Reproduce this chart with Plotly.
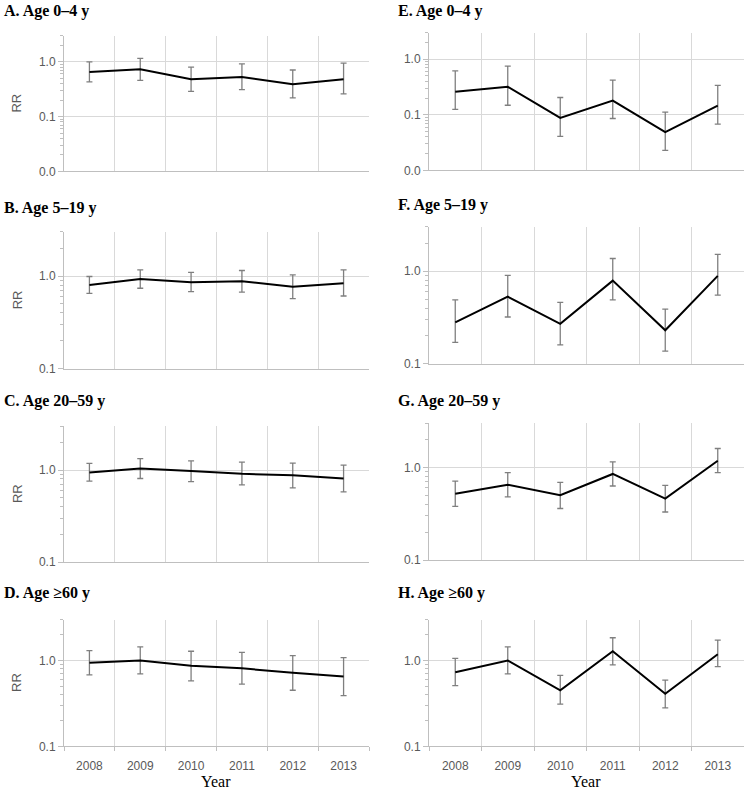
import plotly.graph_objects as go

years = ["2008", "2009", "2010", "2011", "2012", "2013"]

# Panel titles
titles = ["A. Age 0–4 y", "B. Age 5–19 y", "C. Age 20–59 y", "D. Age ≥60 y",
          "E. Age 0–4 y", "F. Age 5–19 y", "G. Age 20–59 y", "H. Age ≥60 y"]

# Rate ratios (RR) with 95% CI bounds
rr_A = [0.65, 0.73, 0.48, 0.53, 0.39, 0.48]
hi_A = [1.00, 1.16, 0.80, 0.92, 0.71, 0.95]
lo_A = [0.43, 0.46, 0.29, 0.31, 0.22, 0.26]

rr_B = [0.80, 0.93, 0.86, 0.88, 0.77, 0.84]
hi_B = [0.99, 1.17, 1.10, 1.15, 1.03, 1.17]
lo_B = [0.65, 0.74, 0.68, 0.67, 0.57, 0.61]

rr_C = [0.94, 1.04, 0.98, 0.91, 0.88, 0.81]
hi_C = [1.18, 1.33, 1.26, 1.22, 1.19, 1.13]
lo_C = [0.76, 0.81, 0.75, 0.69, 0.64, 0.58]

rr_D = [0.94, 1.00, 0.87, 0.81, 0.72, 0.65]
hi_D = [1.30, 1.44, 1.28, 1.24, 1.14, 1.08]
lo_D = [0.68, 0.70, 0.58, 0.53, 0.45, 0.39]

rr_E = [0.26, 0.32, 0.088, 0.18, 0.049, 0.147]
hi_E = [0.62, 0.75, 0.205, 0.42, 0.112, 0.34]
lo_E = [0.125, 0.149, 0.041, 0.086, 0.023, 0.068]

rr_F = [0.28, 0.53, 0.27, 0.79, 0.23, 0.89]
hi_F = [0.49, 0.90, 0.46, 1.37, 0.39, 1.52]
lo_F = [0.17, 0.32, 0.16, 0.49, 0.137, 0.55]

rr_G = [0.52, 0.65, 0.50, 0.85, 0.46, 1.18]
hi_G = [0.71, 0.88, 0.69, 1.15, 0.64, 1.60]
lo_G = [0.38, 0.48, 0.36, 0.63, 0.33, 0.88]

rr_H = [0.73, 1.00, 0.45, 1.28, 0.41, 1.18]
hi_H = [1.06, 1.44, 0.67, 1.84, 0.59, 1.73]
lo_H = [0.51, 0.70, 0.31, 0.89, 0.28, 0.85]

series = [(rr_A, hi_A, lo_A), (rr_B, hi_B, lo_B), (rr_C, hi_C, lo_C), (rr_D, hi_D, lo_D),
          (rr_E, hi_E, lo_E), (rr_F, hi_F, lo_F), (rr_G, hi_G, lo_G), (rr_H, hi_H, lo_H)]

# y-axis ranges (log10): top panels go down to 0.01
y_min = [-2, -1, -1, -1, -2, -1, -1, -1]
y_max = 0.477

W, H = 747, 796
# plot-area pixel boxes (left, right, top, bottom)
boxes = [
    (64, 369, 36, 173), (64, 369, 234, 372), (64, 369, 430, 567), (64, 369, 625, 753),
    (429, 744, 33, 172), (429, 744, 229, 367), (429, 744, 427, 565), (429, 744, 625, 753),
]
title_pos = [(2, 11), (2, 210), (2, 405), (2, 598),
             (396, 11), (396, 207), (396, 405), (396, 598)]

fig = go.Figure()
layout = dict(
    width=W, height=H, margin=dict(l=0, r=0, t=0, b=0),
    paper_bgcolor="white", plot_bgcolor="white", showlegend=False,
    annotations=[],
)

grid = "#d9d9d9"
axl = "#bfbfbf"
tickfont = dict(family="Liberation Sans, Arial", size=12, color="#595959")

for i, ((rr, hi, lo), box, t, ymn) in enumerate(zip(series, boxes, titles, y_min)):
    n = i + 1
    xa = "x" if n == 1 else f"x{n}"
    ya = "y" if n == 1 else f"y{n}"
    fig.add_trace(go.Scatter(
        x=years, y=rr, mode="lines", xaxis=xa, yaxis=ya,
        line=dict(color="black", width=2),
        error_y=dict(type="data", symmetric=False,
                     array=[h - v for h, v in zip(hi, rr)],
                     arrayminus=[v - l for v, l in zip(rr, lo)],
                     color="#7f7f7f", thickness=1.3, width=3),
    ))
    l, r, tp, bt = box
    bottom_row = (i % 4 == 3)
    xaxis = dict(
        domain=[l / W, r / W], anchor=ya, type="category",
        tickson="boundaries", showgrid=True, gridcolor=grid, gridwidth=1,
        showline=True, linecolor=axl, linewidth=1,
        range=[-0.5, 5.5], fixedrange=True,
    )
    if bottom_row:
        xaxis.update(ticks="outside", ticklen=4, tickcolor=axl,
                     showticklabels=True, tickfont=tickfont, ticklabelstandoff=8)
    else:
        xaxis.update(ticks="", showticklabels=False)
    layout["xaxis" if n == 1 else f"xaxis{n}"] = xaxis
    layout["yaxis" if n == 1 else f"yaxis{n}"] = dict(
        domain=[1 - bt / H, 1 - tp / H], anchor=xa, type="log",
        range=[ymn, y_max], dtick=1, tickformat=".1f", fixedrange=True,
        showgrid=True, gridcolor=grid, gridwidth=1,
        showline=True, linecolor=axl, linewidth=1,
        ticks="outside", ticklen=5, tickcolor=axl, tickfont=tickfont,
        minor=dict(ticks="outside", ticklen=3, tickcolor=axl, showgrid=False, dtick="D1"),
        zeroline=False,
    )
    tx, ty = title_pos[i]
    layout["annotations"].append(dict(
        text=f"<b>{t}</b>", x=tx / W, y=1 - ty / H, xref="paper", yref="paper",
        xanchor="left", yanchor="middle", showarrow=False,
        font=dict(family="Liberation Serif, Times New Roman", size=16, color="black"),
    ))
    if i < 4:
        layout["annotations"].append(dict(
            text="RR", x=17 / W, y=1 - ((tp + bt) / 2) / H, xref="paper", yref="paper",
            xanchor="center", yanchor="middle", showarrow=False, textangle=-90,
            font=dict(family="Liberation Sans, Arial", size=13, color="#595959"),
        ))

for cx in (216, 586):
    layout["annotations"].append(dict(
        text="Year", x=cx / W, y=1 - 788 / H, xref="paper", yref="paper",
        xanchor="center", yanchor="middle", showarrow=False,
        font=dict(family="Liberation Serif, Times New Roman", size=16, color="black"),
    ))

fig.update_layout(**layout)
post_js = (
    "var s=document.createElement('style');"
    "s.textContent='html,body{margin:0;padding:0;overflow:hidden;}';"
    "document.head.appendChild(s);"
    "var gd=document.getElementById('{plot_id}');"
    "gd.style.position='fixed';gd.style.top='0px';gd.style.left='0px';"
)
fig.write_html("out.html", config={"displayModeBar": False}, post_script=post_js)
